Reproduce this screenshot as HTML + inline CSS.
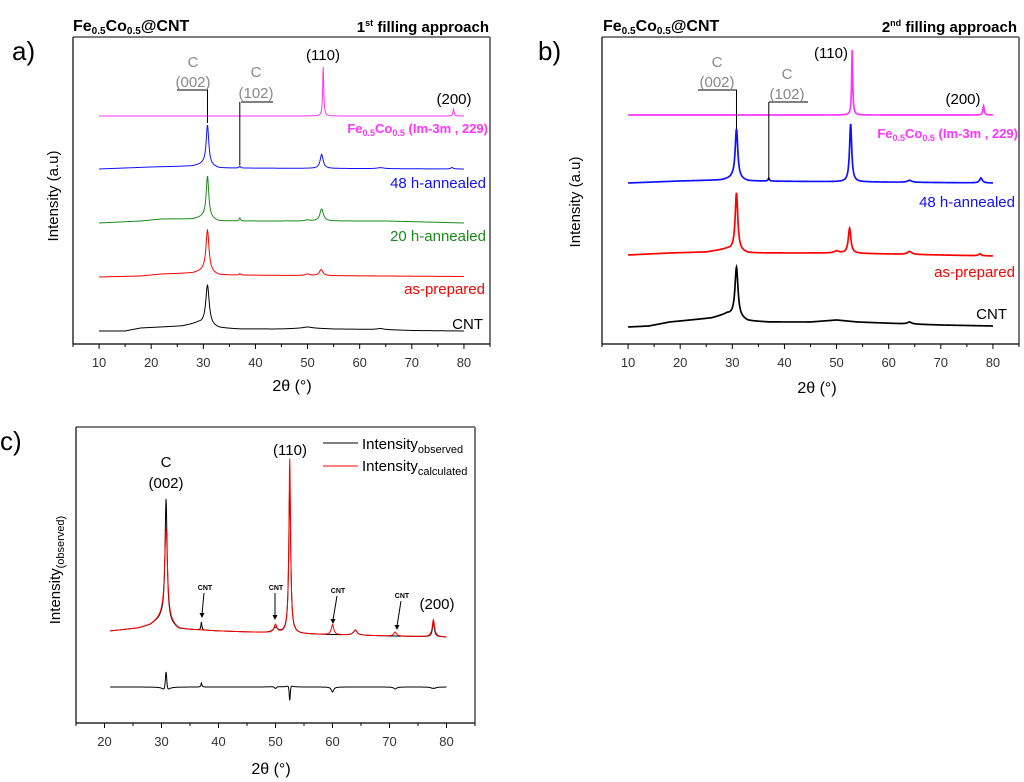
<!DOCTYPE html>
<html><head><meta charset="utf-8"><style>
html,body{margin:0;padding:0;background:#fff;}
svg{display:block;font-family:"Liberation Sans",Arial,sans-serif;}
</style></head><body>
<svg id="fig" width="1024" height="782" viewBox="0 0 1024 782" xmlns="http://www.w3.org/2000/svg">
<g id="layer"></g>
</svg>
<script>
// ---------- DATA ----------
const aOffsets = [13, 67, 121, 175, 228];
const aNames = ["CNT","as-prepared","20 h-annealed","48 h-annealed","Fe0.5Co0.5 reference"];
const aColors = ["#000","#f00","#1a8a1a","#1010ff","#ff33ff"];
const aBgCNT = [[10,0],[15,0],[18,3],[22,4],[26,5],[29,8],[33,3],[37,2],[45,2],[50,3],[55,2],[64,1.5],[70,0.5],[80,0]];
const aPkCNT = [[30.8,40,0.8],[50,1,2],[64,1,1.5]];
const aBgRed = [[10,0],[18,1],[22,3],[28,4],[30,6],[33,2],[80,0.5]];
const aPkRed = [[30.8,42,0.7],[52.6,6,0.8],[37,1.5,0.3],[50,1.5,1]];
const aBgGreen = [[10,0],[18,2],[22,4],[28,4],[30,6],[33,2],[50,2],[65,2],[80,0]];
const aPkGreen = [[30.8,42,0.6],[52.7,12,0.8],[37,3,0.3],[50,1,1]];
const aBgBlue = [[10,0],[20,2],[28,3],[30,5],[33,1],[80,0]];
const aPkBlue = [[30.8,40,0.6],[52.7,14,0.7],[37,2,0.3],[64,1,1.5],[77.7,1.5,0.5]];
const aBgPink = [[10,0],[80,0]];
const aPkPink = [[53,49,0.25],[78,7,0.25]];
const bOffsets = [17, 89, 161, 229];
const bColors = ["#000","#f00","#1010ff","#ff33ff"];
const bBgCNT = [[10,0],[14,1],[18,5],[22,7],[26,9],[29,13],[33,6],[37,5],[45,5],[50,7],[54,5],[64,3],[70,2],[80,1]];
const bPkCNT = [[30.8,50,0.7],[64,2,1]];
const bBgRed = [[10,0],[18,2],[25,3],[29,6],[33,2],[50,2],[80,-1]];
const bPkRed = [[30.8,58,0.6],[52.5,25,0.6],[50,2,1],[64,3,1],[77.5,2,0.6]];
const bBgBlue = [[10,0],[20,2],[28,3],[30,5],[33,2],[80,0]];
const bPkBlue = [[30.8,50,0.6],[52.7,58,0.5],[37,3,0.3],[64,2,1],[77.7,5,0.6]];
const bBgPink = [[10,0],[80,0]];
const bPkPink = [[53,65,0.25],[78.2,9,0.3]];
const cObsOffset = 92;
const cDiffOffset = 36;
const cBg = [[21,0],[26,3],[28,6],[30,13],[33,2],[40,0],[50,-2],[55,-3],[70,-5],[80,-6]];
const cPkObs = [[30.8,122,0.45],[52.5,148,0.4],[37,8,0.2],[50,5,1],[64,5,0.8],[77.7,15,0.4]];
const cPkCalc = [[30.8,92,0.6],[52.5,175,0.35],[50,8,0.6],[60,10,0.5],[64,5,0.8],[71,4,0.6],[77.7,17,0.5]];
const xTicksAB = [10,20,30,40,50,60,70,80];
const xTicksC = [20,30,40,50,60,70,80];

// ---------- HELPERS ----------
const NS="http://www.w3.org/2000/svg";
const layer=document.getElementById('layer');
function mk(tag,attrs,parent){const e=document.createElementNS(NS,tag);for(const k in attrs)e.setAttribute(k,attrs[k]);(parent||layer).appendChild(e);return e;}
function interp(bg,x){if(x<=bg[0][0])return bg[0][1];for(let i=1;i<bg.length;i++){if(x<=bg[i][0]){const t=(x-bg[i-1][0])/(bg[i][0]-bg[i-1][0]);return bg[i-1][1]+t*(bg[i][1]-bg[i-1][1]);}}return bg[bg.length-1][1];}
function val(bg,pk,x){let v=interp(bg,x);for(const p of pk){const d=(x-p[0])/(p[2]/2);v+=p[1]/(1+d*d);}return v;}
function axis(x0,x1,d0,d1){return v=>x0+(v-d0)/(d1-d0)*(x1-x0);}
function txt(x,y,s,o,name){const t=mk('text',Object.assign({x:x,y:y},o||{}));t.innerHTML=s;return t;}
function curvePath(X,Y,bg,pk,off,from,to,color,name,sw){let d='';for(let x=from;x<=to+1e-9;x+=0.05){const px=X(x),py=Y(off+val(bg,pk,x));d+=(d?'L':'M')+px.toFixed(2)+','+py.toFixed(2);}const p=mk('path',{d:d,fill:'none',stroke:color,'stroke-width':sw||1});return p;}
function frame(L,R,T,B,X,ticks,minorFrom,minorTo,name){
  const g=mk('g',{});
  mk('line',{x1:L,y1:T,x2:R,y2:T,stroke:'#555','stroke-width':1.5},g);
  mk('line',{x1:R,y1:T,x2:R,y2:B,stroke:'#777','stroke-width':2},g);
  mk('line',{x1:L,y1:T,x2:L,y2:B,stroke:'#000','stroke-width':1.2},g);
  mk('line',{x1:L,y1:B,x2:R,y2:B,stroke:'#000','stroke-width':1.2},g);
  for(let v=minorFrom;v<=minorTo;v+=5){const maj=v%10===0;mk('line',{x1:X(v),y1:B,x2:X(v),y2:B+(maj?5:3),stroke:'#000','stroke-width':1},g);}
  for(const v of ticks){const t=txt(X(v),B+23,v,{'font-size':13,fill:'#333','text-anchor':'middle'},'x-tick-label');g.appendChild(t);}
}

// ---------- PANEL A ----------
(function(){
  const L=73,R=490,T=37,B=344;
  const X=axis(L,R,5,85), Y=v=>B-v;
  frame(L,R,T,B,X,xTicksAB,5,85,'panel-a-axes');
  const bgs=[aBgCNT,aBgRed,aBgGreen,aBgBlue,aBgPink], pks=[aPkCNT,aPkRed,aPkGreen,aPkBlue,aPkPink];
  for(let i=0;i<5;i++)curvePath(X,Y,bgs[i],pks[i],aOffsets[i],10,80,aColors[i],'a-curve-'+i,1);
  mk('path',{d:`M177,90H${X(30.8)}V123M241,102H273M${X(37)},102V165`,fill:'none',stroke:'#000','stroke-width':1});
  txt(73,31,'Fe<tspan font-size="10" dy="3">0.5</tspan><tspan dy="-3">Co</tspan><tspan font-size="10" dy="3">0.5</tspan><tspan dy="-3">@CNT</tspan>',{'font-size':16,'font-weight':'bold'},'panel-a-title');
  txt(489,32,'1<tspan font-size="9" dy="-6">st</tspan><tspan dy="6"> filling approach</tspan>',{'font-size':15,'font-weight':'bold','text-anchor':'end'},'panel-a-subtitle');
  txt(12,60,'a)',{'font-size':26},'panel-a-label');
  txt(193,67,'C',{'font-size':15,fill:'#888','text-anchor':'middle'},'c-label');
  txt(193,87,'(002)',{'font-size':15,fill:'#888','text-anchor':'middle'},'c002-label');
  txt(256,77,'C',{'font-size':15,fill:'#888','text-anchor':'middle'},'c-label');
  txt(256,98,'(102)',{'font-size':15,fill:'#888','text-anchor':'middle'},'c102-label');
  txt(323,60,'(110)',{'font-size':15,'text-anchor':'middle'},'peak-110-label');
  txt(454,104,'(200)',{'font-size':15,'text-anchor':'middle'},'peak-200-label');
  txt(488,133,'Fe<tspan font-size="9" dy="3">0.5</tspan><tspan dy="-3">Co</tspan><tspan font-size="9" dy="3">0.5</tspan><tspan dy="-3"> (Im-3m , 229)</tspan>',{'font-size':13,'font-weight':'bold',fill:'#ff33ff','text-anchor':'end'},'legend-reference');
  txt(486,188,'48 h-annealed',{'font-size':15,fill:'#1010ff','text-anchor':'end'},'legend-48h');
  txt(486,241,'20 h-annealed',{'font-size':15,fill:'#1a8a1a','text-anchor':'end'},'legend-20h');
  txt(485,294,'as-prepared',{'font-size':15,fill:'#f00','text-anchor':'end'},'legend-as-prepared');
  txt(483,329,'CNT',{'font-size':15,'text-anchor':'end'},'legend-cnt');
  txt(58,196,'Intensity (a.u)',{'font-size':15,'text-anchor':'middle',transform:'rotate(-90 58 196)'},'y-axis-title');
  txt(292,391,'2θ (°)',{'font-size':16,'text-anchor':'middle'},'x-axis-title');
})();

// ---------- PANEL B ----------
(function(){
  const L=602,R=1019,T=37,B=344;
  const X=axis(L,R,5,85), Y=v=>B-v;
  frame(L,R,T,B,X,xTicksAB,5,85,'panel-b-axes');
  const bgs=[bBgCNT,bBgRed,bBgBlue,bBgPink], pks=[bPkCNT,bPkRed,bPkBlue,bPkPink];
  for(let i=0;i<4;i++)curvePath(X,Y,bgs[i],pks[i],bOffsets[i],10,80,bColors[i],'b-curve-'+i,1.7);
  mk('path',{d:`M698,90H${X(30.8)}V129M769,102H808M${X(37)},102V180`,fill:'none',stroke:'#000','stroke-width':1});
  txt(603,31,'Fe<tspan font-size="10" dy="3">0.5</tspan><tspan dy="-3">Co</tspan><tspan font-size="10" dy="3">0.5</tspan><tspan dy="-3">@CNT</tspan>',{'font-size':16,'font-weight':'bold'},'panel-b-title');
  txt(1017,32,'2<tspan font-size="9" dy="-6">nd</tspan><tspan dy="6"> filling approach</tspan>',{'font-size':15,'font-weight':'bold','text-anchor':'end'},'panel-b-subtitle');
  txt(538,60,'b)',{'font-size':26},'panel-b-label');
  txt(717,67,'C',{'font-size':15,fill:'#888','text-anchor':'middle'},'c-label');
  txt(717,87,'(002)',{'font-size':15,fill:'#888','text-anchor':'middle'},'c002-label');
  txt(787,79,'C',{'font-size':15,fill:'#888','text-anchor':'middle'},'c-label');
  txt(787,99,'(102)',{'font-size':15,fill:'#888','text-anchor':'middle'},'c102-label');
  txt(831,58,'(110)',{'font-size':15,'text-anchor':'middle'},'peak-110-label');
  txt(963,104,'(200)',{'font-size':15,'text-anchor':'middle'},'peak-200-label');
  txt(1018,138,'Fe<tspan font-size="9" dy="3">0.5</tspan><tspan dy="-3">Co</tspan><tspan font-size="9" dy="3">0.5</tspan><tspan dy="-3"> (Im-3m , 229)</tspan>',{'font-size':13,'font-weight':'bold',fill:'#ff33ff','text-anchor':'end'},'legend-reference');
  txt(1015,207,'48 h-annealed',{'font-size':15,fill:'#1010ff','text-anchor':'end'},'legend-48h');
  txt(1015,277,'as-prepared',{'font-size':15,fill:'#f00','text-anchor':'end'},'legend-as-prepared');
  txt(1007,319,'CNT',{'font-size':15,'text-anchor':'end'},'legend-cnt');
  txt(580,202,'Intensity (a.u)',{'font-size':15,'text-anchor':'middle',transform:'rotate(-90 580 202)'},'y-axis-title');
  txt(817,393,'2θ (°)',{'font-size':16,'text-anchor':'middle'},'x-axis-title');
})();

// ---------- PANEL C ----------
(function(){
  const L=76,R=475,T=427,B=723;
  const X=axis(L,R,15,85), Y=v=>B-v;
  frame(L,R,T,B,X,xTicksC,15,85,'panel-c-axes');
  curvePath(X,Y,cBg,cPkObs,cObsOffset,21,80,'#000','observed-curve',1);
  curvePath(X,Y,cBg,cPkCalc,cObsOffset,21,80,'#f00','calculated-curve',1);
  let d='';for(let x=21;x<=80;x+=0.05){const v=(val(cBg,cPkObs,x)-val(cBg,cPkCalc,x))*0.5;d+=(d?'L':'M')+X(x).toFixed(2)+','+Y(cDiffOffset+v).toFixed(2);}
  const p=mk('path',{d:d,fill:'none',stroke:'#000','stroke-width':1});
  
  
  mk('line',{x1:323,y1:443,x2:358,y2:443,stroke:'#000','stroke-width':1});
  mk('line',{x1:323,y1:466,x2:358,y2:466,stroke:'#f00','stroke-width':1});
  txt(362,449,'Intensity<tspan font-size="11" dy="4">observed</tspan>',{'font-size':15},'legend-observed');
  txt(362,471,'Intensity<tspan font-size="11" dy="4">calculated</tspan>',{'font-size':15},'legend-calculated');
  txt(0,450,'c)',{'font-size':26},'panel-c-label');
  txt(166,467,'C',{'font-size':15,'text-anchor':'middle'},'c-label');
  txt(166,488,'(002)',{'font-size':15,'text-anchor':'middle'},'c002-label');
  txt(290,455,'(110)',{'font-size':15,'text-anchor':'middle'},'peak-110-label');
  txt(437,609,'(200)',{'font-size':15,'text-anchor':'middle'},'peak-200-label');
  const cnt=[[205,588,202,618],[276,588,275,620],[338,591,333,624],[402,596,397,630]];
  for(const c of cnt){txt(c[0],c[1]+2,'CNT',{'font-size':7,'font-weight':'bold','text-anchor':'middle'},'cnt-annotation');mk('line',{x1:c[0]-1,y1:c[1]+5,x2:c[2],y2:c[3]-4,stroke:'#000','stroke-width':1});mk('path',{d:`M${c[2]-2.5},${c[3]-5}L${c[2]+2.5},${c[3]-5}L${c[2]},${c[3]}Z`,fill:'#000'});}
  txt(60,570,'Intensity<tspan font-size="11" dy="4">(observed)</tspan>',{'font-size':15,'text-anchor':'middle',transform:'rotate(-90 60 570)'},'y-axis-title');
  txt(271,774,'2θ (°)',{'font-size':16,'text-anchor':'middle'},'x-axis-title');
})();
</script>
</body></html>
